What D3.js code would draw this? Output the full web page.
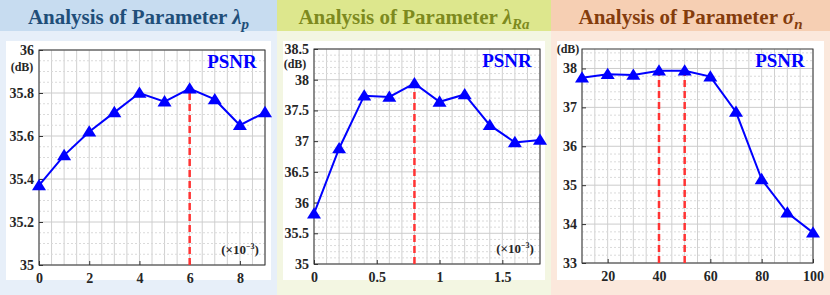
<!DOCTYPE html>
<html>
<head>
<meta charset="utf-8">
<script src="https://cdn.jsdelivr.net/npm/d3@7"></script>
<style>
  body { margin: 0; background: #fff; }
  svg { display: block; font-family: "Liberation Serif", "Times New Roman", serif; }
</style>
</head>
<body>
<svg id="chart" width="830" height="295"></svg>
<script>
// data
var xLambdaP = [0, 1, 2, 3, 4, 5, 6, 7, 8, 9];
var psnrLambdaP = [35.37, 35.51, 35.62, 35.71, 35.80, 35.76, 35.82, 35.77, 35.65, 35.71];
var xTicksP = [0, 2, 4, 6, 8];
var yTicksP = [35, 35.2, 35.4, 35.6, 35.8, 36];

var xLambdaRa = [0, 0.2, 0.4, 0.6, 0.8, 1.0, 1.2, 1.4, 1.6, 1.8];
var psnrLambdaRa = [35.82, 36.88, 37.74, 37.72, 37.94, 37.64, 37.76, 37.26, 36.98, 37.02];
var xTicksRa = [0, 0.5, 1, 1.5];
var yTicksRa = [35, 35.5, 36, 36.5, 37, 37.5, 38, 38.5];

var xSigma = [10, 20, 30, 40, 50, 60, 70, 80, 90, 100];
var psnrSigma = [37.76, 37.85, 37.83, 37.94, 37.94, 37.79, 36.88, 35.15, 34.29, 33.78];
var xTicksSigma = [20, 40, 60, 80, 100];
var yTicksSigma = [33, 34, 35, 36, 37, 38];

var svg = d3.select('#chart');
var fmt = d3.format('~g');

var panels = [
  {
    x0: 0, x1: 277, band: '#c7dcf0', body: '#e7eff9', titleColor: '#1f4e79',
    sym: 'λ', sub: 'p',
    xs: xLambdaP, ys: psnrLambdaP, xTicks: xTicksP, yTicks: yTicksP,
    xDomain: [0, 9], yDomain: [35, 36], box: { l: 39, r: 265, t: 50, b: 265 },
    vStep: 0.5, hMajor: 0.2, hMinor: 0.05, best: [6],
    dbY: 71, dbX: 22, xUnit: true
  },
  {
    x0: 277, x1: 551, band: '#dde78d', body: '#f3f6e2', titleColor: '#7d8a1e',
    sym: 'λ', sub: 'Ra',
    xs: xLambdaRa, ys: psnrLambdaRa, xTicks: xTicksRa, yTicks: yTicksRa,
    xDomain: [0, 1.8], yDomain: [35, 38.5], box: { l: 314, r: 540, t: 49, b: 264 },
    vStep: 0.1, hMajor: 0.5, hMinor: 0.1, best: [0.8],
    dbY: 68, dbX: 295, xUnit: true
  },
  {
    x0: 551, x1: 830, band: '#f6cfb3', body: '#fbe8dc', titleColor: '#843c0c',
    sym: 'σ', sub: 'n',
    xs: xSigma, ys: psnrSigma, xTicks: xTicksSigma, yTicks: yTicksSigma,
    xDomain: [10, 100], yDomain: [33, 38.5], box: { l: 582, r: 813, t: 49, b: 263 },
    vStep: 5, hMajor: 1, hMinor: 0.2, best: [40, 50],
    dbY: 53, dbX: 568, xUnit: false
  }
];

panels.forEach(drawPanel);

function drawPanel(p) {
  var g = svg.append('g');
  // backgrounds
  g.append('rect').attr('x', p.x0).attr('y', 0).attr('width', p.x1 - p.x0).attr('height', 295)
    .attr('fill', p.body);
  g.append('rect').attr('x', p.x0).attr('y', 0).attr('width', p.x1 - p.x0).attr('height', 31)
    .attr('fill', p.band);
  g.append('rect').attr('x', p.x0 + 6).attr('y', 41).attr('width', p.x1 - p.x0 - 12).attr('height', 239)
    .attr('fill', '#ffffff');

  // title
  var title = g.append('text')
    .attr('x', (p.x0 + p.x1) / 2).attr('y', 24)
    .attr('text-anchor', 'middle')
    .attr('font-size', 21).attr('font-weight', 'bold')
    .attr('fill', p.titleColor);
  title.append('tspan').text('Analysis of Parameter ');
  title.append('tspan').attr('font-style', 'italic').text(p.sym);
  title.append('tspan').attr('font-style', 'italic').attr('font-size', 15)
    .attr('dy', 5).text(p.sub);

  var b = p.box;
  var x = d3.scaleLinear().domain(p.xDomain).range([b.l, b.r]);
  var y = d3.scaleLinear().domain(p.yDomain).range([b.b, b.t]);

  // grid
  var grid = g.append('g');
  d3.range(p.xDomain[0], p.xDomain[1] + 1e-9, p.vStep).forEach(function (v) {
    grid.append('line').attr('x1', x(v)).attr('x2', x(v)).attr('y1', b.t).attr('y2', b.b)
      .attr('stroke', '#d0d0d0').attr('stroke-width', 1);
  });
  d3.range(p.yDomain[0], p.yDomain[1] + 1e-9, p.hMinor).forEach(function (v) {
    var major = Math.abs(v / p.hMajor - Math.round(v / p.hMajor)) < 1e-6;
    grid.append('line').attr('x1', b.l).attr('x2', b.r).attr('y1', y(v)).attr('y2', y(v))
      .attr('stroke', major ? '#cccccc' : '#dadada')
      .attr('stroke-width', 1)
      .attr('stroke-dasharray', major ? null : '2,2');
  });

  // axes
  var xAxis = g.append('g').attr('transform', 'translate(0,' + b.b + ')')
    .call(d3.axisBottom(x).tickValues(p.xTicks).tickFormat(fmt).tickSizeInner(-4).tickSizeOuter(0).tickPadding(8));
  var yAxis = g.append('g').attr('transform', 'translate(' + b.l + ',0)')
    .call(d3.axisLeft(y).tickValues(p.yTicks).tickFormat(fmt).tickSizeInner(-4).tickSizeOuter(0).tickPadding(5));
  [xAxis, yAxis].forEach(function (a) {
    a.select('.domain').remove();
    a.selectAll('line').attr('stroke', '#333');
    a.selectAll('text').attr('font-size', 14).attr('font-weight', 'bold')
      .attr('font-family', '"Liberation Serif", serif').attr('fill', '#262626');
  });
  g.append('rect').attr('x', b.l).attr('y', b.t).attr('width', b.r - b.l).attr('height', b.b - b.t)
    .attr('fill', 'none').attr('stroke', '#333').attr('stroke-width', 1);

  // best-value markers
  p.best.forEach(function (v) {
    var i = p.xs.indexOf(v);
    g.append('line').attr('x1', x(v)).attr('x2', x(v)).attr('y1', b.b).attr('y2', y(p.ys[i]))
      .attr('stroke', '#ff3333').attr('stroke-width', 2.5).attr('stroke-dasharray', '7,4');
  });

  // series
  var pts = p.xs.map(function (v, i) { return [v, p.ys[i]]; });
  g.append('path').datum(pts)
    .attr('d', d3.line().x(function (d) { return x(d[0]); }).y(function (d) { return y(d[1]); }))
    .attr('fill', 'none').attr('stroke', '#0000ff').attr('stroke-width', 2);
  g.selectAll('.marker').data(pts).enter().append('path')
    .attr('class', 'marker')
    .attr('transform', function (d) { return 'translate(' + x(d[0]) + ',' + y(d[1]) + ')'; })
    .attr('d', 'M0,-6.5L7,4.8L-7,4.8Z')
    .attr('fill', '#0000ff');

  // labels
  g.append('text').attr('x', b.r - 33).attr('y', b.t + 18).attr('text-anchor', 'middle')
    .attr('font-size', 19).attr('font-weight', 'bold').attr('fill', '#0000ff').text('PSNR');
  g.append('text').attr('x', p.dbX).attr('y', p.dbY).attr('text-anchor', 'middle')
    .attr('font-size', 12).attr('font-weight', 'bold').attr('fill', '#262626').text('(dB)');
  if (p.xUnit) {
    var u = g.append('text').attr('x', b.r - 25).attr('y', b.b - 11).attr('text-anchor', 'middle')
      .attr('font-size', 13).attr('font-weight', 'bold').attr('fill', '#262626');
    u.append('tspan').text('(×10');
    u.append('tspan').attr('font-size', 8).attr('dy', -5).text('−3');
    u.append('tspan').attr('dy', 5).text(')');
  }
}
</script>
</body>
</html>
